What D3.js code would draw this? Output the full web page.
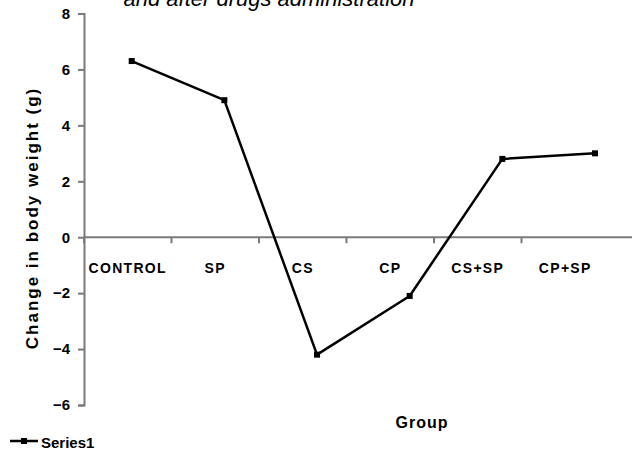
<!DOCTYPE html>
<html>
<head>
<meta charset="utf-8">
<script src="https://cdn.jsdelivr.net/npm/d3@7"></script>
<style>
  html, body { margin: 0; padding: 0; background: #fff; }
  svg { display: block; }
  text { font-family: "Liberation Sans", Arial, sans-serif; }
</style>
</head>
<body>
<svg id="chart" width="632" height="450"></svg>
<script>
// Change in body weight per treatment group
const groups = ["CONTROL", "SP", "CS", "CP", "CS+SP", "CP+SP"];
const series1 = [6.3, 4.9, -4.2, -2.1, 2.8, 3.0];
const yTicks = [8, 6, 4, 2, 0, -2, -4, -6];
const seriesName = "Series1";

const svg = d3.select("#chart");
const W = 632, H = 450;
const axisColor = "#7a7a7a";

// y scale: value -> pixel
const y = d3.scaleLinear().domain([-6, 8]).range([405, 13.5]);

// category axis (labels + ticks along zero line)
const xBand = d3.scaleBand().domain(groups).range([84, 84 + 87.5 * groups.length]);
// series positions
const xPt = d3.scalePoint().domain(groups).range([131.7, 595]);

// Title (second line visible)
svg.append("text")
  .attr("x", 269).attr("y", 6)
  .attr("text-anchor", "middle")
  .attr("font-size", 22).attr("font-style", "italic")
  .text("and after drugs administration");

// Y axis
const yAxis = d3.axisLeft(y).tickValues(yTicks).tickSize(6).tickPadding(8).tickFormat(d3.format("d"));
const gy = svg.append("g").attr("transform", "translate(84,0)").call(yAxis);
gy.select(".domain").attr("stroke", axisColor).attr("stroke-width", 2);
gy.selectAll(".tick line").attr("stroke", axisColor).attr("stroke-width", 2);
gy.selectAll(".tick text")
  .attr("font-size", 15).attr("font-weight", "bold")
  .attr("font-family", "Liberation Sans, Arial, sans-serif")
  .attr("fill", "#000");

// Zero line across the plot
svg.append("line")
  .attr("x1", 84).attr("x2", W)
  .attr("y1", y(0)).attr("y2", y(0))
  .attr("stroke", axisColor).attr("stroke-width", 2);

// Category ticks and labels
const xAxis = d3.axisBottom(xBand).tickSize(0).tickPadding(0);
const gx = svg.append("g").attr("transform", `translate(0,${y(0)})`).call(xAxis);
gx.select(".domain").remove();
gx.selectAll(".tick line").remove();
gx.selectAll(".tick text")
  .attr("y", 36).attr("dy", null)
  .attr("font-size", 14).attr("font-weight", "bold")
  .attr("letter-spacing", 1.3)
  .attr("font-family", "Liberation Sans, Arial, sans-serif")
  .attr("fill", "#000");
svg.append("g").selectAll("line")
  .data(groups)
  .join("line")
  .attr("x1", d => xBand(d)).attr("x2", d => xBand(d))
  .attr("y1", y(0)).attr("y2", y(0) + 6)
  .attr("stroke", axisColor).attr("stroke-width", 2);

// Axis titles
svg.append("text")
  .attr("transform", `translate(38,${218}) rotate(-90)`)
  .attr("text-anchor", "middle")
  .attr("font-size", 17).attr("font-weight", "bold")
  .attr("letter-spacing", 2)
  .text("Change in body weight (g)");

svg.append("text")
  .attr("x", 422).attr("y", 428)
  .attr("text-anchor", "middle")
  .attr("font-size", 16).attr("font-weight", "bold")
  .attr("letter-spacing", 1)
  .text("Group");

// Series line
const line = d3.line().x((d, i) => xPt(groups[i])).y(d => y(d));
svg.append("path")
  .datum(series1)
  .attr("d", line)
  .attr("fill", "none")
  .attr("stroke", "#000")
  .attr("stroke-width", 2.5)
  .attr("stroke-linejoin", "round");

svg.append("g").selectAll("rect")
  .data(series1)
  .join("rect")
  .attr("x", (d, i) => xPt(groups[i]) - 3)
  .attr("y", d => y(d) - 3)
  .attr("width", 6).attr("height", 6)
  .attr("fill", "#000");

// Legend
const lg = svg.append("g");
lg.append("line").attr("x1", 10).attr("x2", 38).attr("y1", 441).attr("y2", 441)
  .attr("stroke", "#000").attr("stroke-width", 2.5);
lg.append("rect").attr("x", 21).attr("y", 438).attr("width", 6).attr("height", 6).attr("fill", "#000");
lg.append("text").attr("x", 41).attr("y", 448)
  .attr("font-size", 15).attr("font-weight", "bold")
  .text(seriesName);
</script>
</body>
</html>
